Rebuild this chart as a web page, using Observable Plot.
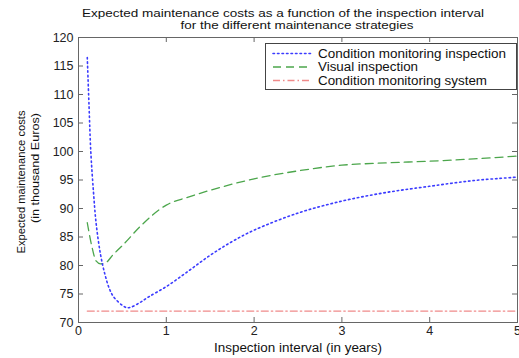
<!DOCTYPE html>
<html><head><meta charset="utf-8">
<script src="https://cdn.jsdelivr.net/npm/d3@7"></script>
<script src="https://cdn.jsdelivr.net/npm/@observablehq/plot@0.6"></script>
<style>
body{margin:0;background:#fff}
#wrap{position:relative;width:519px;height:358px}
#legend{position:absolute;left:265px;top:43px}
</style>
</head><body><div id="wrap"><div id="chart"></div><div id="legend"></div></div>
<script>
const titleLines = ["Expected maintenance costs as a function of the inspection interval", "for the different maintenance strategies"];
const xLabel = "Inspection interval (in years)";
const yLabelLines = ["Expected maintenance costs", "(in thousand Euros)"];
const xTicks = [0, 1, 2, 3, 4, 5];
const yTicks = [70, 75, 80, 85, 90, 95, 100, 105, 110, 115, 120];
const seriesNames = ["Condition monitoring inspection", "Visual inspection", "Condition monitoring system"];

const cmiX = [0.1, 0.12, 0.14, 0.17, 0.2, 0.25, 0.3, 0.35, 0.4, 0.5, 0.55, 0.6, 0.7, 0.8, 1.0, 1.25, 1.5, 1.75, 2, 2.5, 3, 3.5, 4, 4.5, 5];
const cmiY = [116.5, 108, 100, 93, 87.5, 82, 78.5, 76, 74.5, 73, 72.6, 72.7, 73.5, 74.5, 76.3, 79, 81.8, 84.2, 86.2, 89.2, 91.3, 92.8, 93.9, 94.9, 95.5];
const viX = [0.1, 0.15, 0.2, 0.25, 0.3, 0.4, 0.5, 0.7, 1, 1.25, 1.5, 2, 2.5, 3, 3.5, 4, 4.5, 5];
const viY = [87.5, 83.5, 80.8, 80.3, 80.4, 82, 83.5, 86.8, 90.6, 92, 93.2, 95.2, 96.6, 97.6, 98, 98.3, 98.7, 99.2];
const cmsX = [0.1, 5];
const cmsY = [72, 72];

const colors = ["#3b3bff", "#4ca64c", "#f08a8a"];
const dashes = ["1.5 3", "8 5", "7 3 1.5 3"];

const cmi = cmiX.map((x, i) => ({x, y: cmiY[i]}));
const vi = viX.map((x, i) => ({x, y: viY[i]}));
const cms = cmsX.map((x, i) => ({x, y: cmsY[i]}));

const font = "Liberation Sans, Arial, Helvetica, sans-serif";
const W = 519, H = 358, mL = 78, mR = 2, mT = 37, mB = 36;
const fw = W - mL - mR, fh = H - mT - mB, tk = 5;
const plot = Plot.plot({
  width: W, height: H,
  marginLeft: mL, marginRight: mR, marginTop: mT, marginBottom: mB,
  style: {fontFamily: font, fontSize: "12px", color: "#222", background: "#fff"},
  x: {domain: [0, 5]},
  y: {domain: [70, 120]},
  marks: [
    Plot.line(cms, {x: "x", y: "y", stroke: colors[2], strokeWidth: 1.3, strokeDasharray: dashes[2]}),
    Plot.line(vi, {x: "x", y: "y", stroke: colors[1], strokeWidth: 1.3, strokeDasharray: dashes[1], curve: "monotone-x"}),
    Plot.line(cmi, {x: "x", y: "y", stroke: colors[0], strokeWidth: 1.6, strokeDasharray: dashes[0], strokeLinecap: "round", curve: "catmull-rom"}),
    Plot.frame({stroke: "#666"}),
    Plot.tickX(xTicks, {x: d => d, insetTop: fh - tk, stroke: "#666"}),
    Plot.tickX(xTicks, {x: d => d, insetBottom: fh - tk, stroke: "#666"}),
    Plot.tickY(yTicks, {y: d => d, insetRight: fw - tk, stroke: "#666"}),
    Plot.tickY(yTicks, {y: d => d, insetLeft: fw - tk, stroke: "#666"}),
    Plot.axisX({ticks: xTicks, tickSize: 0, tickPadding: 4, tickFormat: d3.format("d"), label: null, fontSize: 12.5}),
    Plot.axisY({ticks: yTicks, tickSize: 0, tickPadding: 5, tickFormat: d3.format("d"), label: null, fontSize: 12.5}),
    Plot.text([titleLines[0]], {text: d => d, frameAnchor: "top", lineAnchor: "middle", dx: -15, dy: -24.5, fontSize: 11.8, fill: "#111"}),
    Plot.text([titleLines[1]], {text: d => d, frameAnchor: "top", lineAnchor: "middle", dx: -1, dy: -12, fontSize: 11.8, fill: "#111"}),
    Plot.text([xLabel], {text: d => d, frameAnchor: "bottom", lineAnchor: "middle", dy: 26, fontSize: 12, fill: "#111"}),
    Plot.text([yLabelLines[0]], {text: d => d, frameAnchor: "left", textAnchor: "middle", lineAnchor: "middle", dx: -57, dy: 2, rotate: -90, fontSize: 10.8, fill: "#111"}),
    Plot.text([yLabelLines[1]], {text: d => d, frameAnchor: "left", textAnchor: "middle", lineAnchor: "middle", dx: -43, dy: -12, rotate: -90, fontSize: 10.8, fill: "#111"})
  ]
});
document.getElementById("chart").appendChild(plot);

// fit text widths to the reference
const fitWidths = new Map([[titleLines[0], 402], [titleLines[1], 233], [xLabel, 168], [yLabelLines[0], 143], [yLabelLines[1], 110]]);
d3.select(plot).selectAll("text").each(function() {
  const w = fitWidths.get(this.textContent);
  if (w) { this.setAttribute("textLength", w); this.setAttribute("lengthAdjust", "spacingAndGlyphs"); }
});

const legendWidths = [188, 100, 169];
const lg = d3.select("#legend").append("svg").attr("width", 253).attr("height", 48)
  .style("font-family", font).style("font-size", "12.3px");
lg.append("rect").attr("x", 0.5).attr("y", 0.5).attr("width", 251).attr("height", 46).attr("fill", "#fff").attr("stroke", "#444");
seriesNames.forEach((name, i) => {
  const y = 10.5 + i * 13.5;
  lg.append("line").attr("x1", 8).attr("x2", 47).attr("y1", y).attr("y2", y)
    .attr("stroke", colors[i]).attr("stroke-width", i === 0 ? 1.6 : 1.3)
    .attr("stroke-dasharray", dashes[i]).attr("stroke-linecap", i === 0 ? "round" : "butt");
  lg.append("text").attr("x", 53).attr("y", y).attr("dy", "0.35em").attr("fill", "#111")
    .attr("textLength", legendWidths[i]).attr("lengthAdjust", "spacingAndGlyphs").text(name);
});
</script>
</body></html>
